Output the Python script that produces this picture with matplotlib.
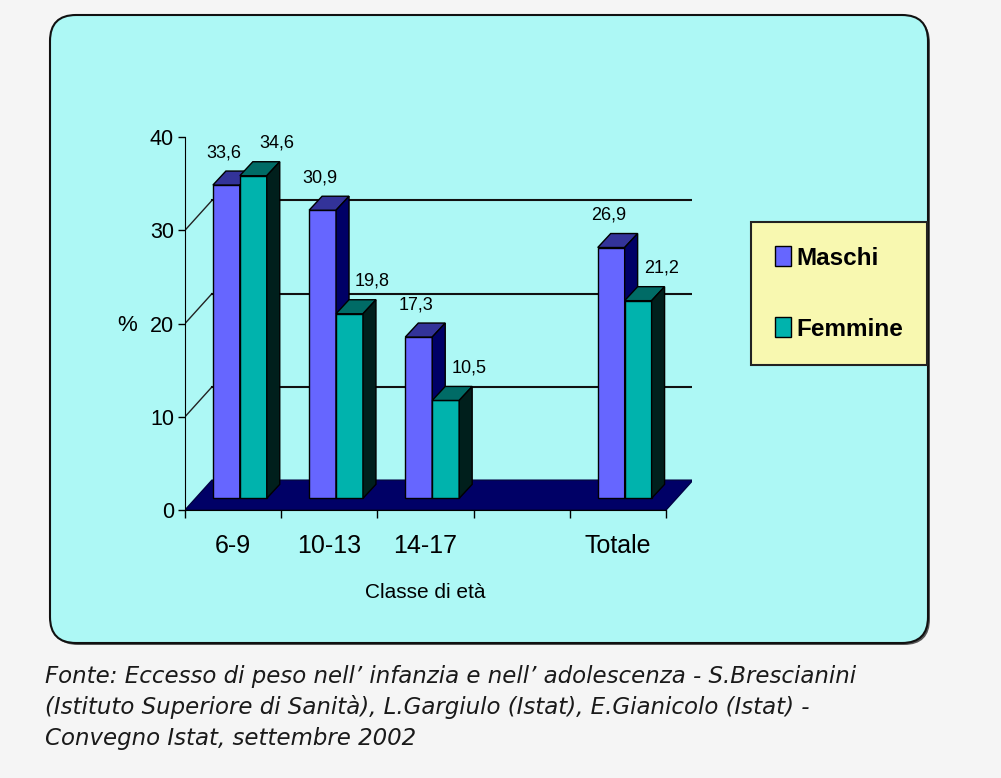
import matplotlib
matplotlib.use('Agg')
import matplotlib.pyplot as plt
from matplotlib.patches import Polygon, FancyBboxPatch, Patch
from matplotlib.transforms import IdentityTransform

#############################################################################
# data

categories = ['6-9', '10-13', '14-17', 'Totale']
slots = [0, 1, 2, 4]          # slot 3 is left empty before the total
maschi = [33.6, 30.9, 17.3, 26.9]
femmine = [34.6, 19.8, 10.5, 21.2]
series = ['Maschi', 'Femmine']
yticks = [0, 10, 20, 30, 40]
x_title = 'Classe di età'
y_title = '%'
fonte = [
    'Fonte: Eccesso di peso nell\u2019 infanzia e nell\u2019 adolescenza - S.Brescianini',
    '(Istituto Superiore di Sanità), L.Gargiulo (Istat), E.Gianicolo (Istat) -',
    'Convegno Istat, settembre 2002',
]

#############################################################################
# style

W, H = 1001, 778
SANS = ['Liberation Sans', 'DejaVu Sans']
colors = {
    'Maschi': ('#6666ff', '#333399', '#000066'),
    'Femmine': ('#00b3ad', '#006b66', '#001f1c'),
}
WALL = (0.28, 3.2)     # depth of the floor / back wall in data units
FRONT = (0.07, 1.25)   # where the front faces of the bars sit
DEPTH = (0.135, 1.5)   # depth of one bar
BAR_W = 0.28
LABEL_DX = {'Maschi': -0.03, 'Femmine': 0.24}


def fmt(v):
    return '{0:.1f}'.format(v).replace('.', ',')


fig = plt.figure(figsize=(W / 100, H / 100), dpi=100, facecolor='#f5f5f5')

# rounded panel with a small shadow
shadow = FancyBboxPatch((52, 133), 878, 628, boxstyle='round,pad=0,rounding_size=26',
                        transform=IdentityTransform(), fc='#555555', ec='none', zorder=-2)
panel = FancyBboxPatch((50, 135), 878, 628, boxstyle='round,pad=0,rounding_size=26',
                       transform=IdentityTransform(), fc='#adf8f5', ec='#111111',
                       lw=1.5, zorder=-1)
fig.patches.extend([shadow, panel])

ax = fig.add_axes([185 / W, 268 / H, 507 / W, 410 / H])
ax.set_xlim(0, 5.27)
ax.set_ylim(0, 43.97)
ax.patch.set_visible(False)

# floor
ncat = len(slots) + 1
ax.add_patch(Polygon([(0, 0), (ncat, 0), (ncat + WALL[0], WALL[1]), (WALL[0], WALL[1])],
                     closed=True, fc='#000066', ec='#000044', lw=1, zorder=1))

# side wall diagonals and back wall grid
for v in yticks[1:-1]:
    ax.plot([0, WALL[0]], [v, v + WALL[1]], color='#222222', lw=1, zorder=1)
    ax.plot([WALL[0], ncat + WALL[0]], [v + WALL[1], v + WALL[1]],
            color='#111111', lw=1.5, zorder=1)

# 3d bars: front face, top face, side face
for k, (name, values) in enumerate(zip(series, [maschi, femmine])):
    front, top_c, side_c = colors[name]
    x0s = [s + 0.5 + FRONT[0] - BAR_W + k * BAR_W for s in slots]
    ax.bar(x0s, values, width=BAR_W, bottom=FRONT[1], align='edge',
           color=front, edgecolor='black', lw=1, zorder=3 + 2 * k)
    for x0, v in zip(x0s, values):
        x1 = x0 + BAR_W
        top = FRONT[1] + v
        ax.add_patch(Polygon([(x0, top), (x1, top), (x1 + DEPTH[0], top + DEPTH[1]),
                              (x0 + DEPTH[0], top + DEPTH[1])],
                             closed=True, fc=top_c, ec='black', lw=1, zorder=3 + 2 * k))
        ax.add_patch(Polygon([(x1, FRONT[1]), (x1 + DEPTH[0], FRONT[1] + DEPTH[1]),
                              (x1 + DEPTH[0], top + DEPTH[1]), (x1, top)],
                             closed=True, fc=side_c, ec='black', lw=1, zorder=3 + 2 * k))
        ax.text(x0 + BAR_W / 2 + LABEL_DX[name], top + 3.0, fmt(v), ha='center',
                va='baseline', fontsize=13, family=SANS, zorder=10)

# axes
for side in ['top', 'right']:
    ax.spines[side].set_visible(False)
ax.spines['left'].set_bounds(0, 40)
ax.spines['bottom'].set_bounds(0, ncat)
ax.spines['left'].set_zorder(8)
ax.spines['bottom'].set_zorder(8)
ax.set_yticks(yticks)
ax.set_yticklabels([str(t) for t in yticks], family=SANS, fontsize=15.5)
ax.tick_params(axis='y', direction='out', length=5, width=1, pad=3)
ax.set_xticks(range(ncat + 1))
ax.set_xticklabels([''] * (ncat + 1))
ax.tick_params(axis='x', which='major', direction='out', length=6, width=1)
ax.set_xticks([s + 0.5 for s in slots], minor=True)
ax.set_xticklabels(categories, minor=True, family=SANS, fontsize=18)
ax.tick_params(axis='x', which='minor', length=0, pad=17)

fig.text(425 / W, 1 - 592 / H, x_title, ha='center', va='center',
         family=SANS, fontsize=15)
fig.text(127 / W, 1 - 325 / H, y_title, ha='center', va='center',
         family=SANS, fontsize=16)

handles = [Patch(fc=colors[n][0], ec='black', lw=1, label=n) for n in series]
leg = fig.legend(handles=handles, loc='upper left', bbox_to_anchor=(751 / W, 1 - 222 / H),
                 frameon=True, fancybox=False, framealpha=1, facecolor='#f8f8b0',
                 edgecolor='#222222', prop={'family': SANS, 'size': 17.5, 'weight': 'bold'},
                 handlelength=0.65, handleheight=0.9, handletextpad=0.2,
                 labelspacing=1.95, borderpad=1.0, borderaxespad=0)
leg.get_frame().set_linewidth(1.5)

for i, line in enumerate(fonte):
    fig.text(45 / W, 1 - (676 + 31 * i) / H, line, ha='left', va='center',
             family='DejaVu Sans', style='italic', fontsize=16.5, color='#1a1a1a')

fig.savefig('out.png', dpi=100, facecolor=fig.get_facecolor())
